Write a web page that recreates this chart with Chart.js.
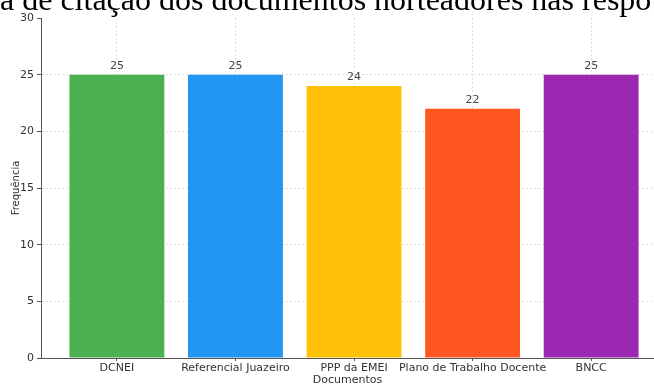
<!DOCTYPE html>
<html>
<head>
<meta charset="utf-8">
<script src="https://cdn.jsdelivr.net/npm/chart.js@4.4.0/dist/chart.umd.min.js"></script>
<style>
  html, body { margin: 0; padding: 0; background: #fff; overflow: hidden; }
  #wrap { position: relative; width: 654px; height: 385px; overflow: hidden; }
  #titre {
    position: absolute; left: 0; top: -17px;
    font: 32px 'Liberation Serif', 'Times New Roman', serif;
    line-height: 32px; white-space: nowrap; color: #000;
  }
</style>
</head>
<body>
<div id="wrap">
  <canvas id="graphique" width="654" height="385"></canvas>
  <div id="titre">a de citação dos documentos norteadores nas respo</div>
</div>
<script>
// Données du graphique
const documents = ['DCNEI', 'Referencial Juazeiro', 'PPP da EMEI', 'Plano de Trabalho Docente', 'BNCC'];
const frequences = [25, 25, 24, 22, 25];
const couleurs = ['#4CAF50', '#2196F3', '#FFC107', '#FF5722', '#9C27B0'];
const ticksY = [0, 5, 10, 15, 20, 25, 30];

const police = "'DejaVu Sans', sans-serif";

// Étiquettes des valeurs au-dessus des barres
const etiquettes = {
    id: 'etiquettes',
    afterDatasetsDraw(chart) {
        const ctx = chart.ctx;
        const meta = chart.getDatasetMeta(0);
        ctx.save();
        ctx.font = '11px ' + police;
        ctx.fillStyle = '#444';
        ctx.textAlign = 'center';
        ctx.textBaseline = 'bottom';
        meta.data.forEach((barre, i) => {
            ctx.fillText(frequences[i], barre.x, barre.y - 3);
        });
        ctx.restore();
    }
};

new Chart(document.getElementById('graphique'), {
    type: 'bar',
    data: {
        datasets: [{
            data: frequences.map((v, i) => ({ x: i, y: v })),
            backgroundColor: couleurs,
            borderWidth: 0,
            barPercentage: 1,
            categoryPercentage: 0.8
        }]
    },
    options: {
        responsive: false,
        animation: false,
        layout: { padding: { top: 18, right: 0, left: 0, bottom: 0 } },
        plugins: {
            legend: { display: false },
            tooltip: { enabled: false }
        },
        scales: {
            x: {
                type: 'linear',
                min: -0.64,
                max: 4.53,
                offset: false,
                z: 1,
                afterBuildTicks: (s) => { s.ticks = documents.map((d, i) => ({ value: i })); },
                afterFit: (s) => { s.height = 27; },
                ticks: {
                    callback: (v) => documents[v],
                    color: '#333',
                    font: { family: police, size: 11 },
                    padding: 1,
                    maxRotation: 0,
                    autoSkip: false
                },
                grid: {
                    offset: false,
                    color: 'rgba(200,200,200,0.6)',
                    tickColor: '#555',
                    tickLength: 3
                },
                border: { display: true, color: '#555', width: 1, dash: [2, 2] },
                title: {
                    display: true,
                    text: 'Documentos',
                    color: '#333',
                    font: { family: police, size: 11 },
                    padding: { top: 0, bottom: -2 }
                }
            },
            y: {
                min: 0,
                max: 30,
                z: 1,
                afterBuildTicks: (s) => { s.ticks = ticksY.map(v => ({ value: v })); },
                afterFit: (s) => { s.width = 41; },
                ticks: {
                    color: '#333',
                    font: { family: police, size: 11 },
                    padding: 3
                },
                grid: {
                    color: (c) => c.tick && c.tick.value === 30 ? 'rgba(0,0,0,0)' : 'rgba(200,200,200,0.6)',
                    tickColor: '#555',
                    tickLength: 4
                },
                border: { display: true, color: '#555', width: 1, dash: [2, 2] },
                title: {
                    display: true,
                    text: 'Frequência',
                    color: '#333',
                    font: { family: police, size: 10 },
                    padding: { top: 10, bottom: 0 }
                }
            }
        }
    },
    plugins: [etiquettes]
});
</script>
</body>
</html>
